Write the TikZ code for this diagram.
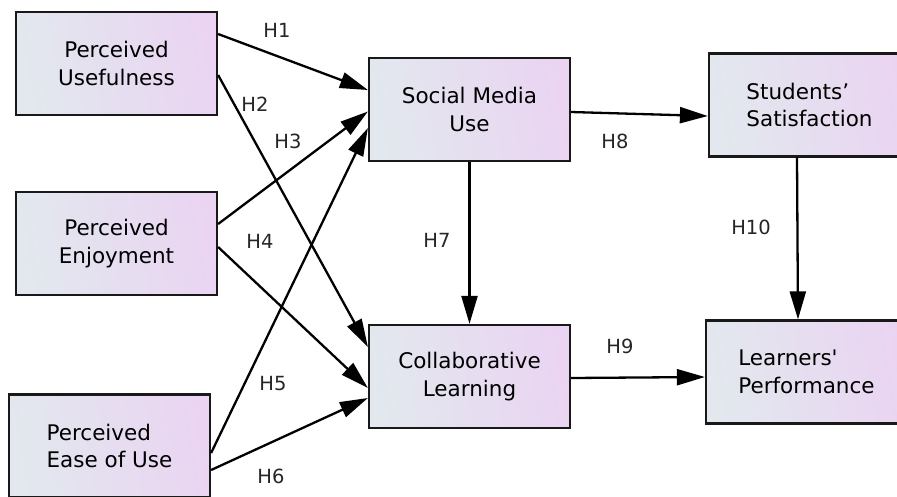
\documentclass[tikz,border=0pt]{standalone}
\usepackage{fontspec}
\setmainfont{DejaVu Sans}[Ligatures=TeXOff]
\usetikzlibrary{arrows.meta}
\definecolor{boxleft}{HTML}{E2E8EE}
\definecolor{boxright}{HTML}{EAD4F2}
\tikzset{
  construct/.style={draw=black!90,line width=2.2pt,left color=boxleft,right color=boxright,
    shading angle=100,minimum width=201pt,minimum height=103pt,inner sep=0pt,
    font=\fontsize{21.5}{27.5}\selectfont},
  hyp/.style={line width=2.3pt,-{Triangle[length=28pt,width=16pt]}},
  hlabel/.style={font=\fontsize{19.5}{20}\selectfont,text=black!85,inner sep=0pt}
}
\begin{document}
\begin{tikzpicture}[x=1pt,y=-1pt]
\useasboundingbox(0,0)rectangle(897,496);
% constructs
\node[construct,align=center](pu)at(116.5,63.5){Perceived\\Usefulness};
\node[construct,align=center](pe)at(116.5,243.5){Perceived\\Enjoyment};
\node[construct,align=left](peu)at(109.5,446){Perceived\\Ease of Use};
\node[construct,align=center](smu)at(469.5,109.5){Social Media\\Use};
\node[construct,align=center](cl)at(469.5,376.5){Collaborative\\Learning};
\node[construct,align=left](ss)at(809.5,105){Students’\\Satisfaction};
\node[construct,align=left](lp)at(806.5,372){Learners'\\Performance};
% hypotheses
\draw[hyp]([yshift=29.5pt]pu.east)--([yshift=19.5pt]smu.west);
\draw[hyp]([yshift=-11.5pt]pu.east)--([yshift=29.5pt]cl.west);
\draw[hyp]([yshift=19.5pt]pe.east)--([yshift=-2pt]smu.west);
\draw[hyp]([yshift=-3.5pt]pe.east)--([yshift=-11.5pt]cl.west);
\draw[hyp]([yshift=-7pt]peu.east)--([yshift=-18.5pt]smu.west);
\draw[hyp]([yshift=-24pt]peu.east)--([yshift=-21.5pt]cl.west);
\draw[hyp](smu.south)--(cl.north);
\draw[hyp]([yshift=-2.5pt]smu.east)--([yshift=-11pt]ss.west);
\draw[hyp]([yshift=-1.5pt]cl.east)--([yshift=-5pt]lp.west);
\draw[hyp]([xshift=-12.5pt]ss.south)--([xshift=-8.5pt]lp.north);
% labels
\node[hlabel](h1)at(277,30){H1};
\node[hlabel](h2)at(255,104){H2};
\node[hlabel](h3)at(288,141){H3};
\node[hlabel](h4)at(260,241){H4};
\node[hlabel](h5)at(273,384){H5};
\node[hlabel](h6)at(271,476){H6};
\node[hlabel](h7)at(437,240){H7};
\node[hlabel](h8)at(615,141){H8};
\node[hlabel](h9)at(620,346){H9};
\node[hlabel](h10)at(751,227){H10};
\end{tikzpicture}
\end{document}
